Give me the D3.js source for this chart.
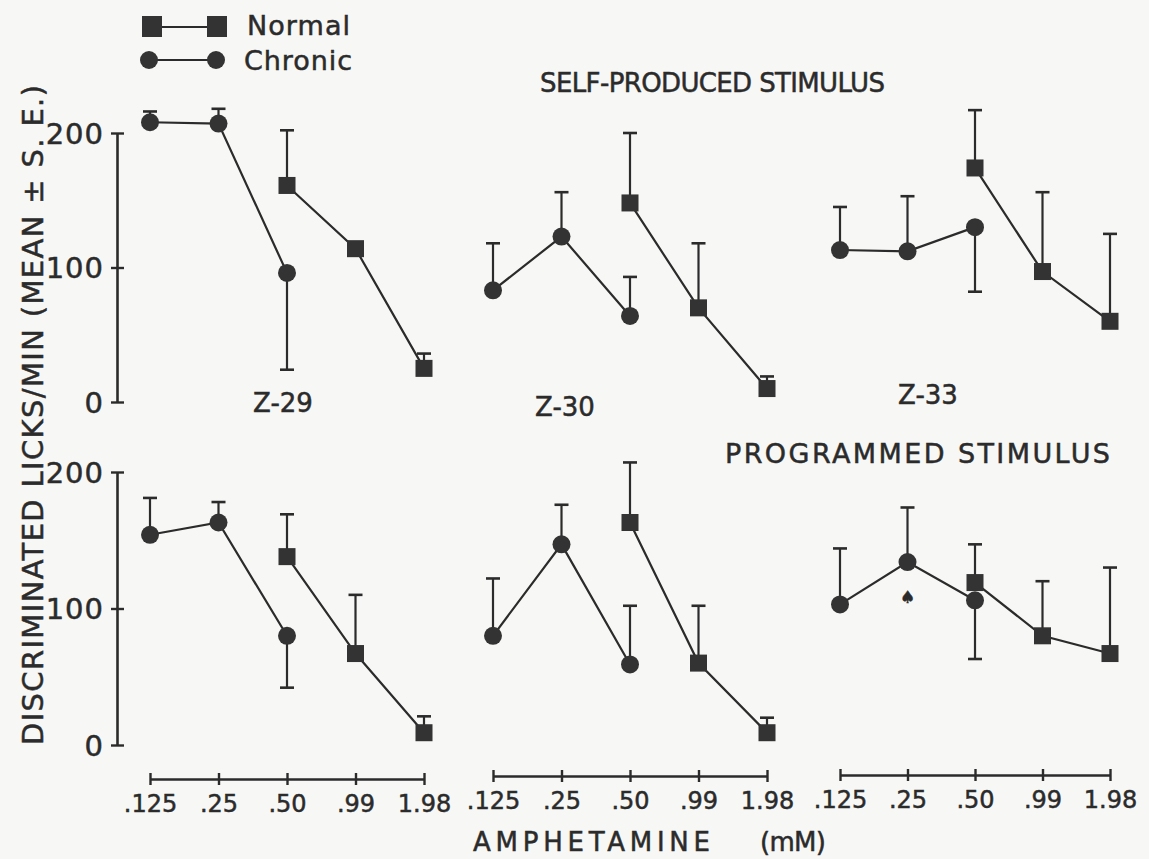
<!DOCTYPE html>
<html>
<head>
    <title>Licks per minute vs amphetamine</title>
    <style>
        body { margin: 0; background: #f7f7f5; }
        text { font-family: "DejaVu Sans", sans-serif; fill: #2b2b2b; stroke: #2b2b2b; stroke-width: 0.5px; }
    </style>
</head>
<body>
    <svg width="1149" height="859"></svg>
    <script src="https://d3js.org/d3.v7.min.js"></script>
    <script>
        // dose labels along the x axis
        var doses = [".125", ".25", ".50", ".99", "1.98"];
        var chronicDoses = [".125", ".25", ".50"];
        var normalDoses = [".50", ".99", "1.98"];
        var subjects = ["Z-29", "Z-30", "Z-33"];
        var yTicks = [0, 100, 200];

        // self-produced stimulus (top row); err < 0 means the bar is drawn downward
        var selfChronic = [[208, 207, 96], [83, 123, 64], [113, 112, 130]];
        var selfChronicErr = [[8, 11, -72], [35, 33, 29], [32, 41, -48]];
        var selfNormal = [[161, 114, 25], [148, 70, 10], [174, 97, 60]];
        var selfNormalErr = [[41, 2, 11], [52, 48, 9], [43, 59, 65]];

        // programmed stimulus (bottom row)
        var progChronic = [[154, 163, 80], [80, 147, 59], [103, 134, 106]];
        var progChronicErr = [[27, 15, -38], [42, 29, 43], [41, 40, -43]];
        var progNormal = [[138, 67, 9], [163, 60, 9], [119, 80, 67]];
        var progNormalErr = [[31, 43, 12], [44, 42, 11], [28, 40, 63]];

        var ink = "#2b2b2b";
        var svg = d3.select("svg");

        // one x scale per column
        var colRanges = [[150, 424], [493, 767], [840, 1110]];
        var xScales = colRanges.map(function(r) {
            return d3.scalePoint().domain(doses).range(r);
        });
        // two y scales, one per row
        var yTop = d3.scaleLinear().domain([0, 200]).range([402, 133]);
        var yBot = d3.scaleLinear().domain([0, 200]).range([745, 472]);

        // draw one series (line, error bars, markers)
        function drawSeries(g, x, y, dList, vals, errs, shape) {
            var pts = dList.map(function(d, i) {
                return {d: d, v: vals[i], e: errs[i]};
            });
            // error bars
            pts.forEach(function(p) {
                if (Math.abs(p.e) < 3) return;
                var y0 = y(p.v), y1 = y(p.v + p.e);
                g.append("line")
                    .attr("x1", x(p.d)).attr("x2", x(p.d))
                    .attr("y1", y0).attr("y2", y1)
                    .attr("stroke", ink).attr("stroke-width", 2.2);
                g.append("line")
                    .attr("x1", x(p.d) - 7).attr("x2", x(p.d) + 7)
                    .attr("y1", y1).attr("y2", y1)
                    .attr("stroke", ink).attr("stroke-width", 2.6);
            });
            // connecting line
            var line = d3.line()
                .x(function(p) { return x(p.d); })
                .y(function(p) { return y(p.v); });
            g.append("path")
                .datum(pts)
                .attr("d", line)
                .attr("fill", "none")
                .attr("stroke", ink)
                .attr("stroke-width", 2.2);
            // markers
            if (shape == "circle") {
                g.selectAll(null).data(pts).enter().append("circle")
                    .attr("cx", function(p) { return x(p.d); })
                    .attr("cy", function(p) { return y(p.v); })
                    .attr("r", 9)
                    .attr("fill", "#333");
            } else {
                g.selectAll(null).data(pts).enter().append("rect")
                    .attr("x", function(p) { return x(p.d) - 8.5; })
                    .attr("y", function(p) { return y(p.v) - 8.5; })
                    .attr("width", 17).attr("height", 17)
                    .attr("fill", "#333");
            }
        }

        var g = svg.append("g");
        for (var c = 0; c < 3; c++) {
            drawSeries(g, xScales[c], yTop, chronicDoses, selfChronic[c], selfChronicErr[c], "circle");
            drawSeries(g, xScales[c], yTop, normalDoses, selfNormal[c], selfNormalErr[c], "square");
            drawSeries(g, xScales[c], yBot, chronicDoses, progChronic[c], progChronicErr[c], "circle");
            drawSeries(g, xScales[c], yBot, normalDoses, progNormal[c], progNormalErr[c], "square");
        }

        // y axes on the left column
        [yTop, yBot].forEach(function(y) {
            var ax = svg.append("g")
                .attr("transform", "translate(117,0)")
                .call(d3.axisLeft(y).tickValues(yTicks).tickSize(0));
            ax.select(".domain").attr("stroke", ink).attr("stroke-width", 2.6);
            ax.selectAll(".tick line").remove();
            ax.selectAll(".tick text").remove();
            ax.selectAll(".tick").append("line")
                .attr("x1", -6).attr("x2", 7)
                .attr("stroke", ink).attr("stroke-width", 2.4);
            ax.selectAll(".tick").append("text")
                .attr("x", -13)
                .attr("dy", "0.36em")
                .attr("text-anchor", "end")
                .style("font-size", "29px")
                .style("letter-spacing", "1px")
                .text(function(d) { return d; });
        });

        // x axes under the bottom row
        var axisY = [779, 776, 775];
        xScales.forEach(function(x, i) {
            var ax = svg.append("g")
                .attr("transform", "translate(0," + axisY[i] + ")")
                .call(d3.axisBottom(x).tickSize(0).tickSizeOuter(0).tickPadding(16));
            ax.select(".domain").attr("stroke", ink).attr("stroke-width", 2.4);
            ax.selectAll(".tick line").remove();
            ax.selectAll(".tick").append("line")
                .attr("y1", -6).attr("y2", 6)
                .attr("stroke", ink).attr("stroke-width", 2.4);
            ax.selectAll(".tick text")
                .style("font-size", "24px")
                .attr("fill", ink);
        });

        // subject labels
        var subjPos = [[283, 412], [565, 416], [928, 404]];
        subjects.forEach(function(s, i) {
            svg.append("text")
                .attr("x", subjPos[i][0]).attr("y", subjPos[i][1])
                .attr("text-anchor", "middle")
                .attr("font-size", 26)
                .text(s);
        });

        // row titles
        svg.append("text")
            .attr("x", 540).attr("y", 92)
            .attr("font-size", 26)
            .attr("textLength", 345)
            .text("SELF-PRODUCED  STIMULUS");
        svg.append("text")
            .attr("x", 725).attr("y", 463)
            .attr("font-size", 27)
            .attr("textLength", 385)
            .text("PROGRAMMED  STIMULUS");

        // x title
        svg.append("text")
            .attr("x", 473).attr("y", 851)
            .attr("font-size", 26)
            .attr("textLength", 237)
            .text("AMPHETAMINE");
        svg.append("text")
            .attr("x", 760).attr("y", 851)
            .attr("font-size", 26)
            .attr("textLength", 66)
            .text("(mM)");

        // y title
        svg.append("text")
            .attr("transform", "translate(43,745) rotate(-90)")
            .attr("font-size", 29)
            .attr("textLength", 660)
            .text("DISCRIMINATED  LICKS/MIN  (MEAN \u00b1 S. E.)");

        // small mark under Z-33 .25 in the programmed row
        svg.append("text")
            .attr("x", xScales[2](".25")).attr("y", 603)
            .attr("text-anchor", "middle")
            .attr("font-size", 17)
            .text("\u2660");

        // legend
        var leg = svg.append("g");
        leg.append("line").attr("x1", 152).attr("x2", 217).attr("y1", 27).attr("y2", 27)
            .attr("stroke", ink).attr("stroke-width", 2.2);
        [152, 217].forEach(function(lx) {
            leg.append("rect").attr("x", lx - 10).attr("y", 16)
                .attr("width", 20).attr("height", 21).attr("fill", "#333");
        });
        leg.append("line").attr("x1", 149).attr("x2", 216).attr("y1", 60).attr("y2", 60)
            .attr("stroke", ink).attr("stroke-width", 2.2);
        [149, 216].forEach(function(lx) {
            leg.append("circle").attr("cx", lx).attr("cy", 60).attr("r", 9).attr("fill", "#333");
        });
        leg.append("text").attr("x", 247).attr("y", 35).attr("font-size", 27)
            .attr("textLength", 103).text("Normal");
        leg.append("text").attr("x", 244).attr("y", 70).attr("font-size", 27)
            .attr("textLength", 108).text("Chronic");
    </script>
</body>
</html>
